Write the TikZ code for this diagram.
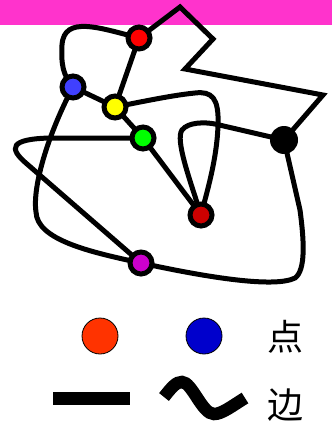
\documentclass[tikz,border=0pt]{standalone}
\usepackage{fontspec}
\newfontfamily\cjk{Noto Sans CJK SC}
\definecolor{band}{RGB}{255,51,204}
\definecolor{cred}{RGB}{255,0,0}
\definecolor{cblue}{RGB}{64,64,255}
\definecolor{cyel}{RGB}{255,255,0}
\definecolor{cgrn}{RGB}{0,255,0}
\definecolor{cdred}{RGB}{204,0,0}
\definecolor{cmag}{RGB}{204,0,204}
\definecolor{lorange}{RGB}{255,51,0}
\definecolor{lblue}{RGB}{0,0,204}
\pgfdeclarelayer{bg}
\pgfsetlayers{bg,main}
\begin{document}
\begin{tikzpicture}[x=1pt,y=-1pt,
  vtx/.style={circle,draw=black,line width=5pt,minimum size=22pt,inner sep=0pt},
  edge/.style={line width=5pt,line join=miter,line cap=round},
  leg/.style={circle,draw=black,line width=0.8pt,minimum size=36pt,inner sep=0pt},
  lbl/.style={font=\cjk\fontsize{36}{40}\selectfont,inner sep=0pt}]
\useasboundingbox (0,0) rectangle (332,425);
\node[vtx,fill=cred] (r) at (139,38) {};
\node[vtx,fill=cblue] (b) at (73,87) {};
\node[vtx,fill=cyel] (y) at (115,107) {};
\node[vtx,fill=cgrn] (g) at (143,138) {};
\node[circle,fill=black,minimum size=28pt,inner sep=0pt] (k) at (284,140) {};
\node[vtx,fill=cdred] (d) at (201,215) {};
\node[vtx,fill=cmag] (m) at (141,263) {};
\begin{pgfonlayer}{bg}
\fill[band] (0,0) rectangle (332,25);
\draw[edge] (r.center) -- (180,7) -- (213,39) -- (185,69) -- (323,95) -- (k.center);
\draw[edge] (r.center) .. controls (100,28) and (64,15) .. (62,45) .. controls (61,65) and (63,75) .. (b.center);
\draw[edge] (b.center) .. controls (50,130) and (32,185) .. (36,212) .. controls (37,240) and (90,252) .. (m.center);
\draw[edge] (r.center) -- (y.center);
\draw[edge] (b.center) -- (y.center);
\draw[edge] (y.center) -- (g.center);
\draw[edge] (y.center) .. controls (150,100) and (175,95) .. (195,93) .. controls (212,91) and (219,98) .. (218,125) .. controls (217,160) and (206,195) .. (d.center);
\draw[edge] (g.center) -- (d.center);
\draw[edge] (d.center) .. controls (190,180) and (175,140) .. (182,130) .. controls (188,122) and (205,122) .. (215,124) -- (k.center);
\draw[edge] (g.center) -- (50,138) .. controls (10,139) and (8,148) .. (27,164) -- (m.center);
\draw[edge] (m.center) .. controls (210,278) and (275,288) .. (295,278) .. controls (306,270) and (304,240) .. (300,210) -- (k.center);
\end{pgfonlayer}
\node[leg,fill=lorange] (lo) at (100,336) {};
\node[leg,fill=lblue] (lb) at (204,336) {};
\node[lbl] (t1) at (285,337) {点};
\fill (53,392) rectangle (130,405);
\draw[line width=12.5pt] (164,397) .. controls (172,387) and (176,382) .. (182,382) .. controls (192,382) and (202,414) .. (214,414) .. controls (222,414) and (232,406) .. (245,398);
\node[lbl] (t2) at (285,405) {边};
\end{tikzpicture}
\end{document}
